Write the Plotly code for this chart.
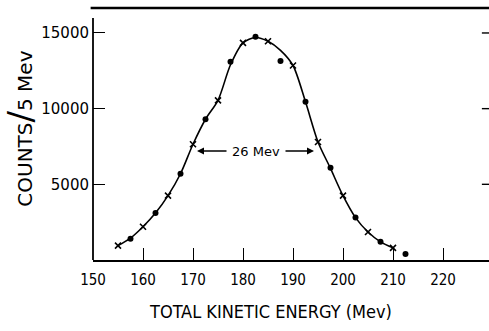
import plotly.graph_objects as go

# measured points (two alternating sets)
cross_x = [155, 160, 165, 170, 175, 180, 185, 190, 195, 200, 205, 210]
cross_y = [950, 2200, 4250, 7650, 10550, 14350, 14450, 12850, 7800, 4250, 1850, 800]
dot_x = [157.5, 162.5, 167.5, 172.5, 177.5, 182.5, 187.5, 192.5, 197.5, 202.5, 207.5, 212.5]
dot_y = [1400, 3100, 5700, 9300, 13100, 14750, 13150, 10450, 6100, 2800, 1200, 400]

# hand-drawn smooth curve
curve_x = [155, 157.5, 160, 162.5, 165, 167.5, 170, 172.5, 175, 177.5, 180, 182.5,
           185, 187.5, 190, 192.5, 195, 197.5, 200, 202.5, 205, 207.5, 210]
curve_y = [950, 1450, 2200, 3100, 4250, 5700, 7650, 9300, 10550, 12900, 14350, 14700,
           14450, 13850, 12850, 10450, 7800, 6050, 4250, 2800, 1850, 1200, 800]

x_ticks = [150, 160, 170, 180, 190, 200, 210, 220]
x_labels = [str(v) for v in x_ticks]
y_ticks = [5000, 10000, 15000]
y_labels = ["5000", "10000", "15000"]

width_label = "26 Mev"
fwhm_left, fwhm_right, fwhm_level = 170.8, 194.2, 7200

NARROW = "DejaVu Sans Condensed, Liberation Sans Narrow, sans-serif"
WIDE = "DejaVu Sans, Verdana, sans-serif"

fig = go.Figure()
fig.add_trace(go.Scatter(x=curve_x, y=curve_y, mode="lines",
                         line=dict(color="black", width=1.6, shape="spline", smoothing=0.8),
                         hoverinfo="skip", showlegend=False))
fig.add_trace(go.Scatter(x=cross_x, y=cross_y, mode="markers",
                         marker=dict(symbol="x-thin", size=6, line=dict(color="black", width=1.6)),
                         showlegend=False))
fig.add_trace(go.Scatter(x=dot_x, y=dot_y, mode="markers",
                         marker=dict(symbol="circle", size=6, color="black"), showlegend=False))

xrange = [150, 229.2]
yrange = [0, 16650]

shapes = [
    # top frame line (heavier)
    dict(type="line", xref="paper", yref="paper", x0=-0.006, x1=1.0, y0=1.0, y1=1.0,
         line=dict(color="black", width=2.6)),
    # left axis line (stops short of top frame)
    dict(type="line", xref="paper", yref="paper", x0=0, x1=0, y0=0, y1=0.96,
         line=dict(color="black", width=1.8)),
]
# right-hand mirrored ticks
for v in y_ticks:
    shapes.append(dict(type="line", xref="paper", yref="y", x0=0.982, x1=1.0, y0=v, y1=v,
                       line=dict(color="black", width=1.4)))

fig.update_layout(
    width=489, height=331,
    margin=dict(l=93, r=0, t=8, b=71),
    paper_bgcolor="white", plot_bgcolor="white",
    font=dict(family=WIDE, color="black"),
    xaxis=dict(range=xrange, tickvals=x_ticks, ticktext=x_labels, ticks="inside", ticklen=12,
               tickwidth=1.4, tickcolor="black",
               showline=True, linecolor="black", linewidth=1.8, showgrid=False, zeroline=False,
               tickfont=dict(size=15, family=NARROW), ticklabelstandoff=5),
    yaxis=dict(range=yrange, tickvals=y_ticks, ticktext=y_labels, ticks="inside", ticklen=12,
               tickwidth=1.4, tickcolor="black",
               showline=False, showgrid=False, zeroline=False,
               tickfont=dict(size=15, family=WIDE), ticklabelstandoff=3),
    shapes=shapes,
    annotations=[
        dict(x=(fwhm_left + fwhm_right) / 2, y=fwhm_level, xref="x", yref="y", text=width_label,
             showarrow=False, font=dict(size=13, family=WIDE)),
        dict(x=fwhm_left, y=fwhm_level, ax=177.0, ay=fwhm_level, xref="x", yref="y", axref="x", ayref="y",
             text="", showarrow=True, arrowhead=2, arrowsize=1, arrowwidth=1.4, arrowcolor="black"),
        dict(x=fwhm_right, y=fwhm_level, ax=188.2, ay=fwhm_level, xref="x", yref="y", axref="x", ayref="y",
             text="", showarrow=True, arrowhead=2, arrowsize=1, arrowwidth=1.4, arrowcolor="black"),
        dict(x=0.449, y=-0.206, xref="paper", yref="paper", text="TOTAL KINETIC ENERGY (Mev)",
             showarrow=False, font=dict(size=18, family=NARROW), xanchor="center", yanchor="middle"),
        dict(x=-0.185, y=0.52, xref="paper", yref="paper",
             text="COUNTS<span style='font-size:34px'>/</span>5 Mev",
             showarrow=False, textangle=-90,
             font=dict(size=20, family=WIDE), xanchor="center", yanchor="middle"),
    ],
)

fig.write_html("out.html")
